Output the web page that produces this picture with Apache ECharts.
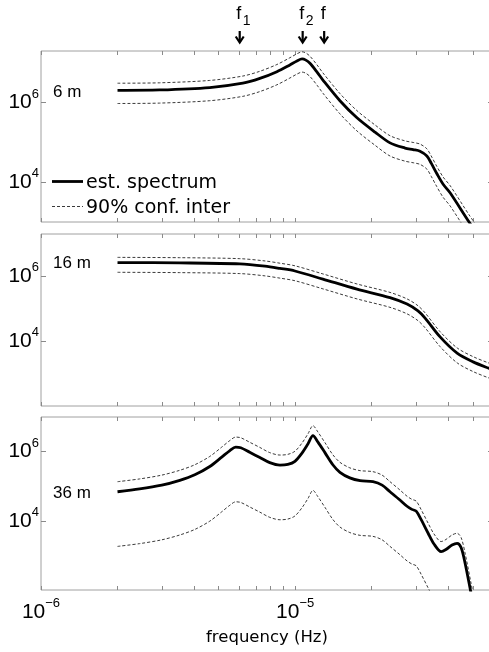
<!DOCTYPE html>
<html><head><meta charset="utf-8">
<script src="https://cdn.jsdelivr.net/npm/echarts@6/dist/echarts.min.js"></script>
<style>html,body{margin:0;padding:0;background:#fff}#c{width:489px;height:652px}</style>
</head><body><div id="c"></div>
<script>
// ---- data (log10 of frequency in Hz, log10 of spectral density) ----
const PANEL_NAMES = ['6 m', '16 m', '36 m'];
const SERIES_NAMES = ['est. spectrum', '90% conf. inter'];

const LF6  = [-5.699,-5.533,-5.336,-5.206,-5.139,-5.072,-5.021,-4.993,-4.973,-4.958,-4.942,-4.914,-4.891,-4.824,-4.757,-4.686,-4.627,-4.568,-4.536,-4.509,-4.482,-4.465,-4.443,-4.418,-4.390,-4.316,-4.272];
const EST6 = [6.31,6.32,6.38,6.49,6.61,6.78,6.95,7.05,7.10,7.07,6.99,6.77,6.57,6.05,5.62,5.26,4.99,4.86,4.82,4.78,4.66,4.48,4.22,3.95,3.73,3.00,2.60];
const UP6  = [6.49,6.50,6.56,6.67,6.79,6.96,7.13,7.23,7.28,7.25,7.17,6.95,6.75,6.23,5.80,5.44,5.17,5.04,5.00,4.96,4.84,4.66,4.40,4.13,3.91,3.18,2.78];
const LO6  = [5.98,5.99,6.05,6.16,6.28,6.45,6.62,6.72,6.77,6.74,6.66,6.44,6.24,5.72,5.29,4.93,4.66,4.53,4.49,4.45,4.33,4.15,3.89,3.62,3.40,2.67,2.27];

const LF16  = [-5.699,-5.454,-5.218,-5.119,-5.060,-5.001,-4.891,-4.757,-4.627,-4.560,-4.517,-4.489,-4.430,-4.363,-4.300,-4.237,-4.222];
const EST16 = [6.42,6.41,6.38,6.31,6.24,6.16,5.91,5.60,5.34,5.14,4.93,4.71,4.13,3.63,3.36,3.16,3.12];
const UP16  = [6.58,6.57,6.54,6.47,6.40,6.32,6.07,5.76,5.50,5.30,5.09,4.87,4.29,3.79,3.52,3.32,3.28];
const LO16  = [6.12,6.11,6.08,6.01,5.94,5.86,5.61,5.30,5.04,4.84,4.63,4.41,3.83,3.33,3.06,2.86,2.82];

const LF36  = [-5.699,-5.612,-5.525,-5.454,-5.395,-5.336,-5.289,-5.257,-5.234,-5.214,-5.179,-5.139,-5.100,-5.060,-5.029,-5.001,-4.974,-4.950,-4.930,-4.911,-4.883,-4.852,-4.824,-4.785,-4.745,-4.694,-4.658,-4.627,-4.588,-4.560,-4.541,-4.524,-4.505,-4.477,-4.454,-4.426,-4.407,-4.383,-4.363,-4.347,-4.331,-4.308,-4.288];
const EST36 = [4.84,4.92,5.03,5.17,5.33,5.57,5.84,6.03,6.13,6.11,5.98,5.83,5.68,5.61,5.63,5.72,5.95,6.22,6.46,6.28,5.97,5.62,5.40,5.24,5.16,5.13,5.03,4.84,4.60,4.42,4.33,4.28,4.04,3.64,3.33,3.11,3.17,3.30,3.35,3.22,2.75,1.90,1.20];
const UP36  = [5.13,5.21,5.32,5.46,5.62,5.86,6.13,6.32,6.42,6.40,6.27,6.12,5.97,5.90,5.92,6.01,6.24,6.51,6.75,6.57,6.26,5.91,5.69,5.53,5.45,5.42,5.32,5.13,4.89,4.71,4.62,4.57,4.33,3.93,3.62,3.40,3.46,3.59,3.64,3.51,3.04,2.19,1.49];
const LO36  = [3.26,3.34,3.45,3.59,3.75,3.99,4.26,4.45,4.55,4.53,4.40,4.25,4.10,4.03,4.05,4.14,4.37,4.64,4.88,4.70,4.39,4.04,3.82,3.66,3.58,3.55,3.45,3.26,3.02,2.84,2.75,2.70,2.46,2.06,1.75,1.53,1.59,1.72,1.77,1.64,1.17,0.32,-0.38];

// axis ticks / labels
const X_TICK_HZ = [1e-6,2e-6,3e-6,4e-6,5e-6,6e-6,7e-6,8e-6,9e-6,1e-5,2e-5,3e-5,4e-5,5e-5,6e-5];
const X_LABEL_EXP = [-6, -5];
const X_RANGE_HZ = [1e-6, 6e-5];
const Y_LABEL_EXP = [4, 6];
const Y_MIN = [3, 2, 2];
const Y_MAX = [7.3, 7.3, 7];

// annotation frequencies at top
const MARK_HZ = [6.05e-6, 1.07e-5, 1.30e-5];
const MARK_SUB = ['1', '2', ''];

const PANELS = [
  {lf: LF6, est: EST6, up: UP6, lo: LO6},
  {lf: LF16, est: EST16, up: UP16, lo: LO16},
  {lf: LF36, est: EST36, up: UP36, lo: LO36}
];

const GRID_POS = [{top: 51, height: 171}, {top: 234, height: 172}, {top: 417, height: 173}];
const AX_COLOR = '#a0a0a0';
const TICK_COLOR = '#8a8a8a';
const CONF_STYLE = {color: '#3a3a3a', width: 1, type: [3, 2]};
const EST_STYLE = {color: '#000', width: 2.8};

const xTicks = X_TICK_HZ.map(v => Math.log10(v));
const xMin = Math.log10(X_RANGE_HZ[0]);
const xMax = Math.log10(X_RANGE_HZ[1]);

function powLabel(v) {
  const e = Math.round(v);
  const s = e < 0 ? '\u2212' + (-e) : String(e);
  return '{b|10}{s|' + s + '}';
}
const richPow = {
  b: {fontSize: 21, lineHeight: 30, verticalAlign: 'middle', fontFamily: 'Liberation Sans', color: '#000'},
  s: {fontSize: 13, verticalAlign: 'top', fontFamily: 'Liberation Sans', color: '#000'}
};

const grid = [], xAxis = [], yAxis = [], series = [];
GRID_POS.forEach((g, i) => {
  grid.push({left: 41, width: 452, top: g.top, height: g.height, show: true,
    borderColor: AX_COLOR, borderWidth: 1, backgroundColor: 'transparent',
    containLabel: false, outerBoundsMode: 'none'});
  const baseX = {type: 'value', gridIndex: i, min: xMin, max: xMax,
    axisLine: {show: false}, splitLine: {show: false}, minorTick: {show: false},
    axisTick: {show: true, inside: true, length: 4, customValues: xTicks, lineStyle: {color: TICK_COLOR, width: 1}}};
  const bottom = Object.assign({}, baseX, {position: 'bottom',
    axisLabel: {show: i === 2, customValues: X_LABEL_EXP, formatter: powLabel, margin: 7, rich: richPow}});
  if (i === 2) {
    Object.assign(bottom, {name: 'frequency (Hz)', nameLocation: 'middle', nameGap: 39, nameMoveOverlap: false,
      nameTextStyle: {fontSize: 16.5, fontFamily: 'DejaVu Sans', color: '#000'}});
  }
  xAxis.push(bottom);
  xAxis.push(Object.assign({}, baseX, {position: 'top', axisLabel: {show: false}}));
  const baseY = {type: 'value', gridIndex: i, min: Y_MIN[i], max: Y_MAX[i],
    axisLine: {show: false}, splitLine: {show: false},
    axisTick: {show: true, inside: true, length: 5, customValues: Y_LABEL_EXP, lineStyle: {color: TICK_COLOR, width: 1}}};
  yAxis.push(Object.assign({}, baseY, {position: 'left',
    axisLabel: {show: true, customValues: Y_LABEL_EXP, formatter: powLabel, margin: 2, rich: richPow}}));
  yAxis.push(Object.assign({}, baseY, {position: 'right', axisLabel: {show: false}}));

  const p = PANELS[i];
  const mk = arr => p.lf.map((x, k) => [x, arr[k]]);
  const common = {type: 'line', xAxisIndex: 2 * i, yAxisIndex: 2 * i, symbol: 'none', smooth: 0.3,
    clip: true, animation: false, silent: true};
  series.push(Object.assign({}, common, {name: SERIES_NAMES[1], data: mk(p.up), z: 2, lineStyle: CONF_STYLE}));
  series.push(Object.assign({}, common, {name: SERIES_NAMES[1], data: mk(p.lo), z: 2, lineStyle: CONF_STYLE}));
  series.push(Object.assign({}, common, {name: SERIES_NAMES[0], data: mk(p.est), z: 3, lineStyle: EST_STYLE}));
});

const chart = echarts.init(document.getElementById('c'), null, {renderer: 'canvas'});
chart.setOption({
  animation: false,
  backgroundColor: '#fff',
  grid, xAxis, yAxis, series
});

// annotations: legend, panel depth labels, frequency arrows
const graphic = [];
const LEGEND_ROWS = [{y: 181.5, style: EST_STYLE}, {y: 206.5, style: CONF_STYLE}];
LEGEND_ROWS.forEach((r, i) => {
  graphic.push({type: 'line', silent: true, shape: {x1: 52, y1: r.y, x2: 83, y2: r.y},
    style: {stroke: r.style.color, lineWidth: r.style.width, lineDash: Array.isArray(r.style.type) ? r.style.type : null}});
  graphic.push({type: 'text', silent: true, style: {text: SERIES_NAMES[i], x: 86, y: r.y + 1.5, align: 'left',
    verticalAlign: 'middle', font: '19px "DejaVu Sans"', fill: '#000'}});
});
const labelY = [92, 263, 493];
PANEL_NAMES.forEach((t, i) => {
  graphic.push({type: 'text', silent: true, style: {text: t, x: 53, y: labelY[i], align: 'left',
    verticalAlign: 'middle', font: '17px "Liberation Sans"', fill: '#000'}});
});
MARK_HZ.forEach((f, i) => {
  const px = chart.convertToPixel({xAxisIndex: 0}, Math.log10(f));
  graphic.push({type: 'line', silent: true, shape: {x1: px, y1: 31, x2: px, y2: 42},
    style: {stroke: '#000', lineWidth: 2.2}});
  graphic.push({type: 'polyline', silent: true, shape: {points: [[px - 4, 36.5], [px, 42.5], [px + 4, 36.5]]},
    style: {stroke: '#000', lineWidth: 2.2, fill: null}});
  graphic.push({type: 'text', silent: true, style: {text: 'f', x: px - 1, y: 14, align: 'center',
    verticalAlign: 'middle', font: '18px "Liberation Sans"', fill: '#000'}});
  if (MARK_SUB[i]) {
    graphic.push({type: 'text', silent: true, style: {text: MARK_SUB[i], x: px + 3, y: 21, align: 'left',
      verticalAlign: 'middle', font: '14px "Liberation Sans"', fill: '#000'}});
  }
});
chart.setOption({graphic});
</script></body></html>
